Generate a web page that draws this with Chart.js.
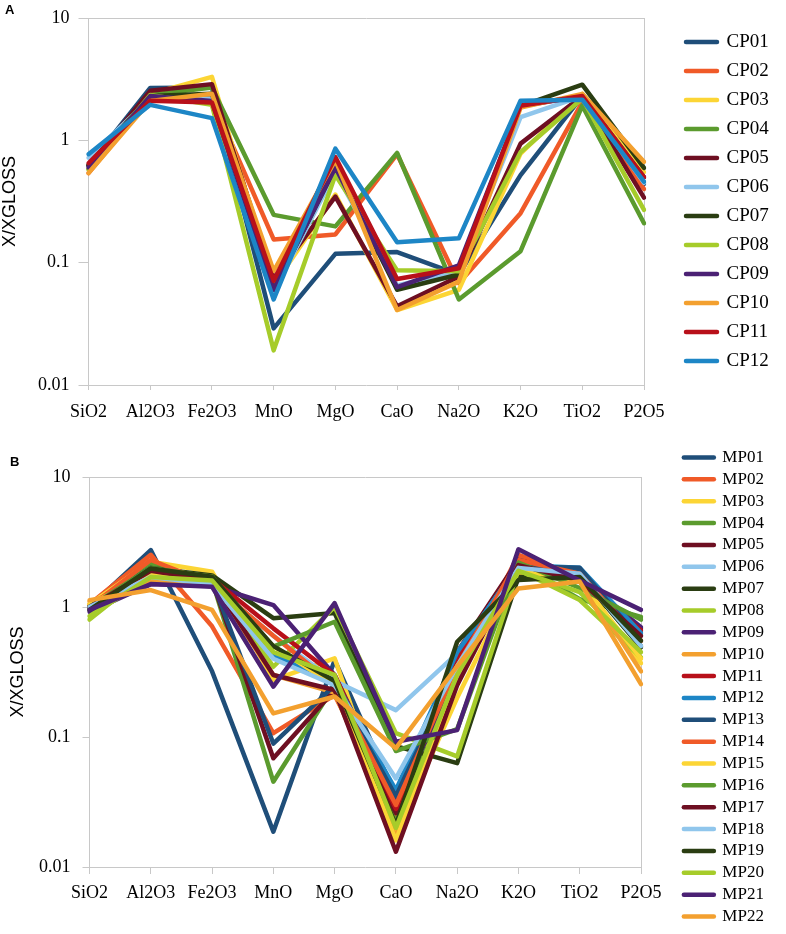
<!DOCTYPE html>
<html>
<head>
<meta charset="utf-8">
<script src="https://cdn.jsdelivr.net/npm/chart.js@4.4.1/dist/chart.umd.min.js"></script>
<style>
  body { margin: 0; background: #fff; }
  #page { position: relative; width: 786px; height: 934px; }
  .panel { position: absolute; left: 0; width: 786px; }
  .tag { position: absolute; font: bold 13px/13px "Liberation Sans", Arial, sans-serif; color: #000; }
</style>
</head>
<body>
<div id="page">
  <div class="panel" style="top:0;height:430px"><canvas id="chartA"></canvas></div>
  <div class="panel" style="top:440px;height:494px"><canvas id="chartB"></canvas></div>
  <div class="tag" style="left:5px;top:3px">A</div>
  <div class="tag" style="left:10px;top:455px">B</div>
</div>
<script>
// oxides along the x axis
const categories = ['SiO2', 'Al2O3', 'Fe2O3', 'MnO', 'MgO', 'CaO', 'Na2O', 'K2O', 'TiO2', 'P2O5'];
const yTicks = [0.01, 0.1, 1, 10];

const palette = ['#1f4e79', '#f05a28', '#fcd535', '#5b9b2e', '#6e0f22', '#90c6ec',
                 '#2a3d12', '#a6cc2a', '#4b2174', '#f3a02f', '#b8101a', '#1d86c6'];

// panel A, X/XGLOSS per oxide
const cpNames = ['CP01', 'CP02', 'CP03', 'CP04', 'CP05', 'CP06', 'CP07', 'CP08', 'CP09', 'CP10', 'CP11', 'CP12'];
const cp01 = [0.62, 2.68, 2.70, 0.029, 0.118, 0.122, 0.080, 0.52, 2.30, 0.44];
const cp02 = [0.54, 2.20, 2.20, 0.155, 0.170, 0.770, 0.068, 0.254, 2.05, 0.40];
const cp03 = [0.58, 2.40, 3.30, 0.065, 0.360, 0.041, 0.060, 0.78, 2.40, 0.55];
const cp04 = [0.58, 2.35, 2.70, 0.246, 0.198, 0.790, 0.050, 0.124, 1.92, 0.21];
const cp05 = [0.62, 2.54, 2.88, 0.074, 0.347, 0.044, 0.077, 0.94, 2.30, 0.34];
const cp06 = [0.72, 2.20, 2.20, 0.058, 0.550, 0.065, 0.085, 1.55, 2.30, 0.45];
const cp07 = [0.63, 2.30, 2.40, 0.060, 0.600, 0.060, 0.080, 1.90, 2.85, 0.595];
const cp08 = [0.58, 2.35, 1.95, 0.0192, 0.520, 0.0865, 0.085, 0.80, 2.20, 0.27];
const cp09 = [0.60, 2.30, 2.10, 0.060, 0.600, 0.063, 0.095, 1.90, 2.30, 0.50];
const cp10 = [0.54, 2.10, 2.40, 0.0855, 0.690, 0.041, 0.070, 1.85, 2.40, 0.667];
const cp11 = [0.65, 2.11, 2.04, 0.071, 0.730, 0.0735, 0.090, 1.92, 2.30, 0.50];
const cp12 = [0.77, 1.95, 1.52, 0.050, 0.855, 0.147, 0.158, 2.11, 2.15, 0.46];
const cpSeries = [cp01, cp02, cp03, cp04, cp05, cp06, cp07, cp08, cp09, cp10, cp11, cp12];

// panel B
const mpNames = ['MP01', 'MP02', 'MP03', 'MP04', 'MP05', 'MP06', 'MP07', 'MP08', 'MP09', 'MP10', 'MP11',
                 'MP12', 'MP13', 'MP14', 'MP15', 'MP16', 'MP17', 'MP18', 'MP19', 'MP20', 'MP21', 'MP22'];
const mp01 = [1.00, 2.74, 0.32, 0.0187, 0.39, 0.035, 0.30, 2.00, 1.95, 0.50];
const mp02 = [1.05, 2.52, 0.71, 0.107, 0.21, 0.025, 0.30, 2.52, 1.70, 0.60];
const mp03 = [1.05, 2.23, 1.87, 0.275, 0.403, 0.0175, 0.20, 1.80, 1.60, 0.37];
const mp04 = [0.95, 2.15, 1.60, 0.0453, 0.25, 0.022, 0.35, 2.17, 1.15, 0.84];
const mp05 = [1.00, 1.80, 1.60, 0.0686, 0.23, 0.026, 0.45, 2.30, 1.70, 0.685];
const mp06 = [1.00, 1.80, 1.50, 0.60, 0.27, 0.161, 0.44, 2.10, 1.80, 0.60];
const mp07 = [1.00, 2.00, 1.75, 0.82, 0.90, 0.085, 0.063, 1.70, 1.75, 0.49];
const mp08 = [0.80, 1.90, 1.72, 0.347, 1.00, 0.107, 0.071, 1.93, 1.13, 0.41];
const mp09 = [0.92, 1.50, 1.45, 1.035, 0.30, 0.031, 0.30, 2.30, 1.70, 0.70];
const mp10 = [1.10, 1.60, 1.50, 0.30, 0.22, 0.017, 0.30, 2.00, 1.70, 0.32];
const mp11 = [1.00, 1.90, 1.65, 0.685, 0.30, 0.028, 0.40, 2.20, 1.70, 0.66];
const mp12 = [1.00, 1.80, 1.60, 0.43, 0.27, 0.039, 0.45, 2.10, 2.00, 0.63];
const mp13 = [1.00, 2.00, 1.60, 0.089, 0.25, 0.035, 0.35, 2.05, 2.00, 0.55];
const mp14 = [1.00, 2.30, 1.50, 0.60, 0.25, 0.030, 0.35, 2.30, 1.80, 0.55];
const mp15 = [1.05, 1.80, 1.50, 0.50, 0.25, 0.016, 0.30, 1.90, 1.60, 0.40];
const mp16 = [1.00, 2.00, 1.70, 0.495, 0.77, 0.078, 0.115, 2.20, 1.40, 0.80];
const mp17 = [1.00, 1.90, 1.60, 0.30, 0.23, 0.0131, 0.25, 2.10, 1.60, 0.60];
const mp18 = [1.00, 1.70, 1.50, 0.40, 0.25, 0.048, 0.35, 2.00, 1.80, 0.50];
const mp19 = [0.95, 1.98, 1.71, 0.50, 0.27, 0.021, 0.54, 1.61, 1.70, 0.55];
const mp20 = [0.85, 1.70, 1.60, 0.45, 0.30, 0.020, 0.30, 1.90, 1.30, 0.45];
const mp21 = [0.95, 1.50, 1.43, 0.244, 1.07, 0.092, 0.113, 2.78, 1.60, 0.95];
const mp22 = [1.13, 1.35, 0.95, 0.152, 0.205, 0.082, 0.35, 1.39, 1.57, 0.255];
const mpSeries = [mp01, mp02, mp03, mp04, mp05, mp06, mp07, mp08, mp09, mp10, mp11,
                  mp12, mp13, mp14, mp15, mp16, mp17, mp18, mp19, mp20, mp21, mp22];

const serif = '"Liberation Serif", "Times New Roman", serif';
const sans = '"Liberation Sans", Arial, sans-serif';
const axisGray = '#c8c8c8';
const lineW = 4.5;

function makeDatasets(names, series) {
  return names.map((name, i) => {
    const color = palette[i % palette.length];
    return {
      label: name,
      data: series[i],
      borderColor: color,
      backgroundColor: color,
      pointBorderColor: color,
      pointBackgroundColor: color,
      borderWidth: lineW,
      borderJoinStyle: 'round',
      borderCapStyle: 'round',
      pointRadius: 0,
      pointHoverRadius: 0,
      tension: 0,
      fill: false,
      order: -i   // later series on top, like the original
    };
  });
}

function makeConfig(names, series, lay) {
  return {
    type: 'line',
    data: { labels: categories, datasets: makeDatasets(names, series) },
    options: {
      responsive: true,
      maintainAspectRatio: false,
      animation: false,
      events: [],
      layout: { padding: lay.padding },
      plugins: {
        tooltip: { enabled: false },
        legend: {
          position: 'right',
          fullSize: lay.legendFull,
          maxWidth: lay.legendWidth,
          labels: {
            usePointStyle: true,
            pointStyle: 'line',
            pointStyleWidth: lay.lineLen,
            padding: lay.legendGap,
            color: '#000',
            font: { family: serif, size: lay.legendFont, lineHeight: 1 },
            sort: (a, b) => a.datasetIndex - b.datasetIndex,
            generateLabels: chart => Chart.defaults.plugins.legend.labels.generateLabels(chart)
              .map(item => Object.assign(item, { lineCap: 'round', lineWidth: lineW }))
          }
        }
      },
      scales: {
        x: {
          type: 'category',
          position: 'bottom',
          offset: false,
          grid: { drawOnChartArea: false, tickLength: lay.xTick, tickColor: axisGray },
          border: { color: axisGray, width: 1 },
          ticks: { color: '#000', padding: lay.xPad, autoSkip: false, maxRotation: 0,
                   font: { family: serif, size: 18, lineHeight: 1 } },
          afterFit: scale => { scale.height = lay.xHeight; }
        },
        x2: {
          type: 'category',
          position: 'top',
          offset: false,
          grid: { display: false },
          ticks: { display: false },
          border: { color: axisGray, width: 1 },
          afterFit: scale => { scale.height = lay.topHeight; }
        },
        y: {
          type: 'logarithmic',
          min: 0.01,
          max: 10,
          afterBuildTicks: scale => { scale.ticks = yTicks.map(v => ({ value: v })); },
          grid: { drawOnChartArea: false, tickLength: lay.yTick, tickColor: axisGray },
          border: { color: axisGray, width: 1 },
          ticks: { color: '#000', padding: lay.yPad, callback: v => String(v),
                   font: { family: serif, size: 18, lineHeight: 1 } },
          title: { display: true, text: 'X/XGLOSS', color: '#000',
                   font: { family: sans, size: 18, lineHeight: 1 },
                   padding: { top: 0, bottom: lay.titleGap } }
        },
        y2: {
          type: 'linear',
          position: 'right',
          grid: { display: false },
          ticks: { display: false },
          border: { color: axisGray, width: 1 },
          afterFit: scale => { scale.width = lay.rightGap; }
        }
      }
    }
  };
}

const chartA = new Chart(document.getElementById('chartA'), makeConfig(cpNames, cpSeries, {
  padding: { left: 1, top: 0, right: 15, bottom: 0 },
  topHeight: 15, xHeight: 45, xTick: 5, xPad: 13,
  yTick: 10, yPad: 9, titleGap: 10, rightGap: 32,
  legendFull: false, legendWidth: 95, legendFont: 19, legendGap: 10, lineLen: 31
}));

const chartB = new Chart(document.getElementById('chartB'), makeConfig(mpNames, mpSeries, {
  padding: { left: 9, top: 2, right: 22, bottom: 2 },
  topHeight: 35, xHeight: 65, xTick: 7, xPad: 10,
  yTick: 7, yPad: 12, titleGap: 0, rightGap: 38,
  legendFull: true, legendWidth: 85, legendFont: 17, legendGap: 4.86, lineLen: 30
}));
</script>
</body>
</html>
